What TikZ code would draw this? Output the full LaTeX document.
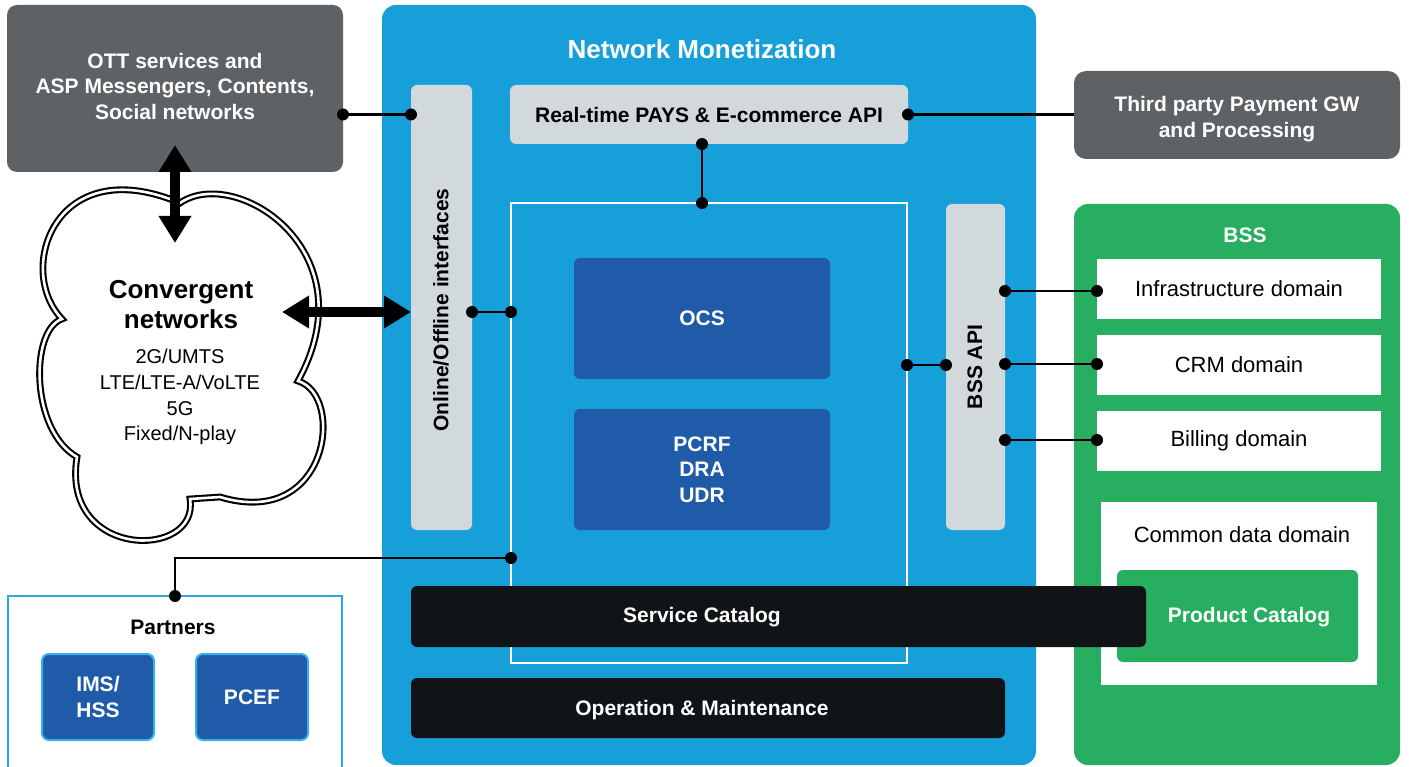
\documentclass[tikz,border=0pt]{standalone}
\usepackage{fontspec}
\setmainfont{Liberation Sans}
\usetikzlibrary{arrows.meta}
\definecolor{ottgray}{HTML}{5F6264}
\definecolor{nmblue}{HTML}{179FDA}
\definecolor{lgray}{HTML}{D1D9DC}
\definecolor{dblue}{HTML}{1F5BA8}
\definecolor{nblack}{HTML}{111416}
\definecolor{bgreen}{HTML}{27AE60}
\definecolor{pblue}{HTML}{2AA8E0}
\definecolor{iblue}{HTML}{38B0E8}
\begin{document}
\begin{tikzpicture}[x=1pt,y=-1pt,
  tb/.style={font=\fontsize{21}{25.5}\selectfont\bfseries, align=center},
  tr/.style={font=\fontsize{22}{26}\selectfont, align=center},
  tt/.style={font=\fontsize{26}{30}\selectfont\bfseries, align=center},
  blk/.style={inner sep=0pt, outer sep=0pt},
  conn/.style={line width=2.4pt, draw=black},
  big/.style={line width=10pt, draw=black, >={Triangle[length=27pt,width=31pt]}, <->},
]
\fill[white] (0,0) rectangle (1409,767);
\useasboundingbox (0,0) rectangle (1409,767);

% OTT box
\node[blk, fill=ottgray, rounded corners=10pt, minimum width=336pt, minimum height=167pt] (ott) at (175,88.5) {};
\node[tb, text=white] (ottt) at (175,86) {OTT services and\\ASP Messengers, Contents,\\Social networks};

% Third party
\node[blk, fill=ottgray, rounded corners=12pt, minimum width=326pt, minimum height=88pt] (tp) at (1237,115) {};
\node[tb, text=white] (tpt) at (1237,119) {Third party Payment GW\\and Processing};

% BSS
\node[blk, fill=bgreen, rounded corners=14pt, minimum width=326pt, minimum height=561pt] (bss) at (1237,484.5) {};
\node[tb, text=white] (bsst) at (1245,235) {BSS};
\node[blk, fill=white, minimum width=284pt, minimum height=60pt, tr] (infra) at (1239,289) {Infrastructure domain};
\node[blk, fill=white, minimum width=284pt, minimum height=60pt, tr] (crm) at (1239,365) {CRM domain};
\node[blk, fill=white, minimum width=284pt, minimum height=60pt, tr] (bill) at (1239,441) {Billing domain};
\node[blk, fill=white, minimum width=276pt, minimum height=183pt] (cdd) at (1239,593.5) {};
\node[tr] (cddt) at (1242,535) {Common data domain};
\node[blk, fill=bgreen, rounded corners=6pt, minimum width=241pt, minimum height=92pt] (pc) at (1237.5,616) {};

% Network Monetization
\node[blk, fill=nmblue, rounded corners=14pt, minimum width=654pt, minimum height=760pt] (nm) at (709,385) {};
\node[tt, text=white] (nmt) at (702,49) {Network Monetization};
\node[blk, fill=lgray, rounded corners=6pt, minimum width=61pt, minimum height=445pt] (onl) at (441.5,307.5) {};
\node[tb, rotate=90] (onlt) at (441,310) {Online/Offline interfaces};
\node[blk, fill=lgray, rounded corners=6pt, minimum width=398pt, minimum height=59pt, tb] (pays) at (709,114.5) {Real-time PAYS \& E-commerce API};
\node[blk, draw=white, line width=2pt, minimum width=396pt, minimum height=460pt] (inner) at (709,433) {};
\node[blk, fill=dblue, rounded corners=6pt, minimum width=256pt, minimum height=121pt, tb, text=white] (ocs) at (702,318.5) {OCS};
\node[blk, fill=dblue, rounded corners=6pt, minimum width=256pt, minimum height=121pt, tb, text=white] (pcrf) at (702,469.5) {PCRF\\DRA\\UDR};
\node[blk, fill=lgray, rounded corners=6pt, minimum width=59pt, minimum height=326pt] (bssapi) at (975.5,367) {};
\node[tb, rotate=90] (bssapit) at (975,367) {BSS API};
\node[blk, fill=nblack, rounded corners=6pt, minimum width=735pt, minimum height=61pt] (svc) at (778.5,616.5) {};
\node[tb, text=white] (svct) at (702,617) {Service Catalog};
\node[tb, text=white] (pct) at (1249,617) {Product Catalog};
\node[blk, fill=nblack, rounded corners=6pt, minimum width=594pt, minimum height=60pt] (om) at (708,708) {};
\node[tb, text=white] (omt) at (702,710) {Operation \& Maintenance};

% Partners
\node[blk, draw=pblue, line width=2pt, fill=white, minimum width=334pt, minimum height=190pt] (partners) at (175,691) {};
\node[tb] (partt) at (173,627) {Partners};
\node[blk, fill=dblue, draw=iblue, line width=2pt, rounded corners=7pt, minimum width=112pt, minimum height=86pt, tb, text=white] (ims) at (98,697) {IMS/\\HSS};
\node[blk, fill=dblue, draw=iblue, line width=2pt, rounded corners=7pt, minimum width=112pt, minimum height=86pt, tb, text=white] (pcef) at (252,697) {PCEF};

% Cloud
\draw[line width=2.1pt, double=white, double distance=2.6pt, fill=white, line join=miter, miter limit=6]
  (62,319) .. controls (15,270) and (55,150) .. (180,203)
  .. controls (235,165) and (370,250) .. (298,381)
  .. controls (345,395) and (330,530) .. (220,497)
  -- (190,499)
  .. controls (200,560) and (60,560) .. (77,457)
  .. controls (30,430) and (30,330) .. cycle;
\node[tt] (cloud) at (181,305) {Convergent\\networks};
\node[font=\fontsize{20}{25.7}\selectfont, align=center] (cloudt) at (180,397) {2G/UMTS\\LTE/LTE-A/VoLTE\\5G\\Fixed/N-play};

% Big arrows
\coordinate (va) at (175,145);
\coordinate (vb) at (175,243);
\coordinate (ha) at (282,312);
\draw[big] (va) -- (vb);
\draw[big] (ha) -- (onl.west |- 0,312);

% Connectors
\draw[conn] (ott.east |- pays) -- (onl.west |- pays);
\fill (ott.east |- pays) circle (6pt);
\fill (onl.west |- pays) circle (6pt);

\draw[conn] (pays.east) -- (pays.east -| tp.west);
\fill (pays.east) circle (6pt);

\draw[conn] (pays.south -| ocs) -- (inner.north -| ocs);
\fill (pays.south -| ocs) circle (6pt);
\fill (inner.north -| ocs) circle (6pt);

\draw[conn] (onl.east |- 0,312) -- (inner.west |- 0,312);
\fill (onl.east |- 0,312) circle (6pt);
\fill (inner.west |- 0,312) circle (6pt);

\draw[conn] (inner.east |- 0,365) -- (bssapi.west |- 0,365);
\fill (inner.east |- 0,365) circle (6pt);
\fill (bssapi.west |- 0,365) circle (6pt);

\foreach \d/\yy in {infra/291, crm/364, bill/440} {
  \draw[conn] (bssapi.east |- 0,\yy) -- (\d.west |- 0,\yy);
  \fill (bssapi.east |- 0,\yy) circle (6pt);
  \fill (\d.west |- 0,\yy) circle (6pt);
}

\draw[conn] (inner.west |- 0,558) -| (partners.north);
\fill (inner.west |- 0,558) circle (6pt);
\fill (partners.north) circle (6pt);
\end{tikzpicture}
\end{document}
